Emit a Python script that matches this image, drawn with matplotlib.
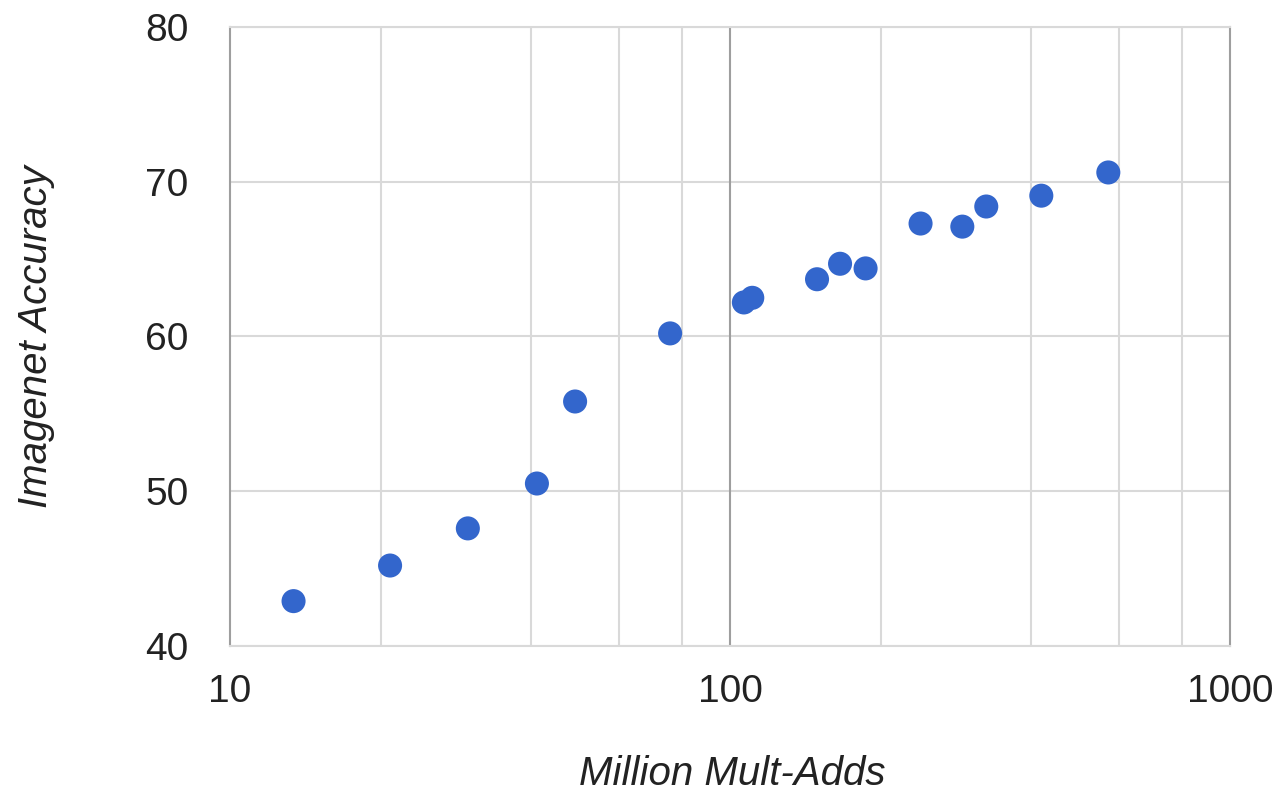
import matplotlib
matplotlib.use("Agg")
import matplotlib.pyplot as plt
from matplotlib.ticker import FixedLocator, NullFormatter

# mult-adds (millions) vs. top-1 accuracy
mult_adds = [13.4, 20.9, 29.9, 41.1, 49.0, 75.9, 106.6, 110.8, 149.3, 166.0,
             186.7, 240.5, 291.5, 325.5, 419.4, 571.0]
accuracy = [42.9, 45.2, 47.6, 50.5, 55.8, 60.2, 62.2, 62.5, 63.7, 64.7,
            64.4, 67.3, 67.1, 68.4, 69.1, 70.6]

x_ticks = [10, 100, 1000]
x_minor = [20, 40, 60, 80, 200, 400, 600, 800]
y_ticks = [40, 50, 60, 70, 80]

plt.rcParams["font.family"] = ["Liberation Sans", "DejaVu Sans"]

fig = plt.figure(figsize=(12.81, 7.92), dpi=100)
ax = fig.add_axes([230 / 1281, 146 / 792, 1000 / 1281, 619 / 792])

ax.set_xscale("log")
ax.set_xlim(10, 1000)
ax.set_ylim(40, 80)

ax.xaxis.set_major_locator(FixedLocator(x_ticks))
ax.xaxis.set_minor_locator(FixedLocator(x_minor))
ax.xaxis.set_minor_formatter(NullFormatter())
ax.set_xticklabels([str(t) for t in x_ticks])
ax.set_yticks(y_ticks)

light = "#d9d9d9"
dark = "#9e9e9e"
ax.grid(which="minor", axis="x", color=light, linewidth=1.5)
ax.grid(which="major", axis="y", color=light, linewidth=1.5)
ax.axvline(100, color=dark, linewidth=1.5, zorder=1)
ax.set_axisbelow(True)

for side in ("left", "right"):
    ax.spines[side].set_color(dark)
    ax.spines[side].set_linewidth(1.5)
for side in ("top", "bottom"):
    ax.spines[side].set_color(light)
    ax.spines[side].set_linewidth(1.5)

ax.tick_params(which="both", length=0, labelsize=28, colors="#222222")
ax.tick_params(axis="x", pad=20)
ax.tick_params(axis="y", pad=30)

ax.scatter(mult_adds, accuracy, s=300, color="#3366cc", edgecolors="none", zorder=3)

ax.set_xlabel("Million Mult-Adds", fontsize=29, style="italic", color="#222222")
ax.set_ylabel("Imagenet Accuracy", fontsize=29, style="italic", color="#222222")
ax.xaxis.set_label_coords(0.502, -0.176)
ax.yaxis.set_label_coords(-0.175, 0.5)

fig.savefig("out.png", dpi=100)
